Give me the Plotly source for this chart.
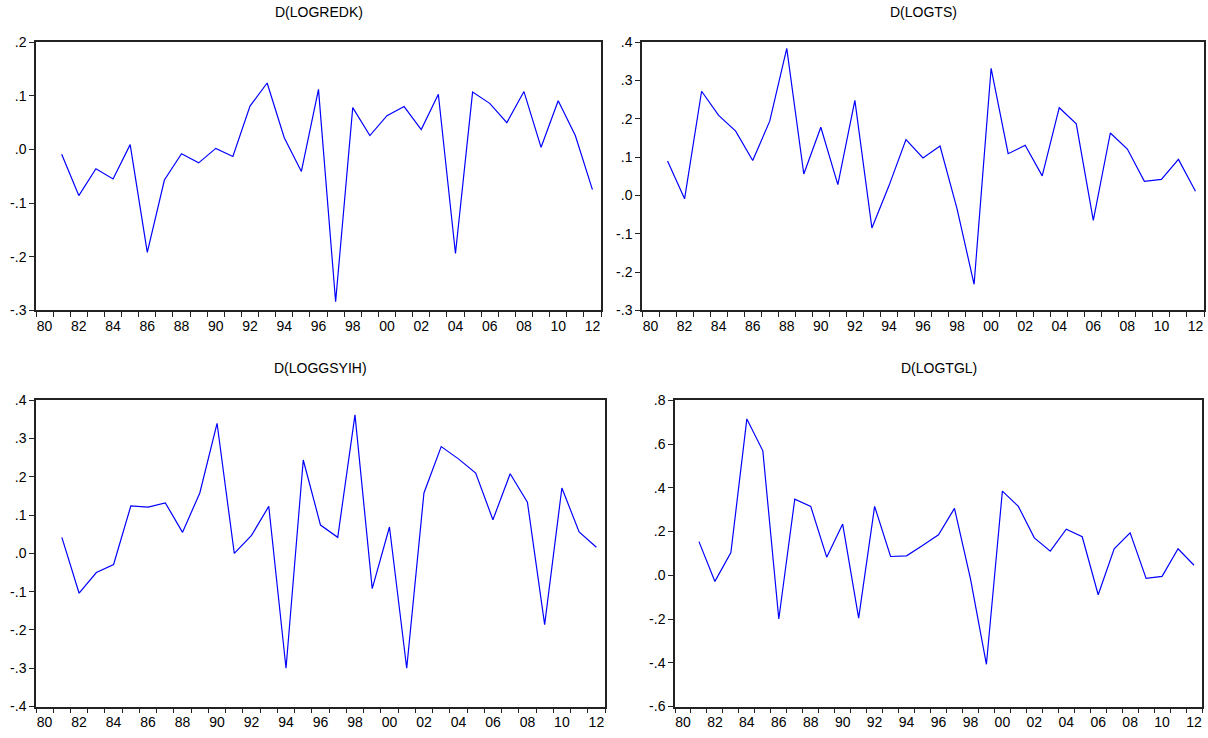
import plotly.graph_objects as go

years = list(range(1981, 2013))

logredk = [-0.009, -0.086, -0.036, -0.055, 0.009, -0.192, -0.057, -0.008, -0.025, 0.002,
           -0.013, 0.081, 0.124, 0.022, -0.041, 0.112, -0.284, 0.078, 0.026, 0.063,
           0.080, 0.037, 0.103, -0.194, 0.107, 0.086, 0.050, 0.108, 0.004, 0.091,
           0.026, -0.075]

logts = [0.090, -0.009, 0.272, 0.209, 0.168, 0.091, 0.194, 0.384, 0.056, 0.178,
         0.028, 0.248, -0.085, 0.025, 0.146, 0.098, 0.129, -0.035, -0.232, 0.332,
         0.109, 0.131, 0.051, 0.229, 0.187, -0.065, 0.163, 0.121, 0.037, 0.042,
         0.094, 0.011]

loggsyih = [0.042, -0.104, -0.050, -0.029, 0.124, 0.121, 0.132, 0.055, 0.158, 0.340,
            0.000, 0.047, 0.123, -0.300, 0.244, 0.074, 0.042, 0.362, -0.092, 0.069,
            -0.300, 0.158, 0.279, 0.247, 0.210, 0.088, 0.208, 0.134, -0.186, 0.171,
            0.056, 0.016]

logtgl = [0.154, -0.028, 0.104, 0.715, 0.569, -0.200, 0.348, 0.315, 0.083, 0.234,
          -0.196, 0.315, 0.086, 0.089, 0.136, 0.185, 0.306, -0.015, -0.407, 0.385,
          0.315, 0.171, 0.110, 0.211, 0.176, -0.089, 0.121, 0.194, -0.014, -0.005,
          0.121, 0.046]

titles = ["D(LOGREDK)", "D(LOGTS)", "D(LOGGSYIH)", "D(LOGTGL)"]

x_label_years = list(range(1980, 2013, 2))
x_labels = ["80", "82", "84", "86", "88", "90", "92", "94", "96", "98",
            "00", "02", "04", "06", "08", "10", "12"]

y1_vals = [0.2, 0.1, 0.0, -0.1, -0.2, -0.3]
y1_text = [".2", ".1", ".0", "-.1", "-.2", "-.3"]
y2_vals = [0.4, 0.3, 0.2, 0.1, 0.0, -0.1, -0.2, -0.3]
y2_text = [".4", ".3", ".2", ".1", ".0", "-.1", "-.2", "-.3"]
y3_vals = [0.4, 0.3, 0.2, 0.1, 0.0, -0.1, -0.2, -0.3, -0.4]
y3_text = [".4", ".3", ".2", ".1", ".0", "-.1", "-.2", "-.3", "-.4"]
y4_vals = [0.8, 0.6, 0.4, 0.2, 0.0, -0.2, -0.4, -0.6]
y4_text = [".8", ".6", ".4", ".2", ".0", "-.2", "-.4", "-.6"]

W, H = 1208, 738
# panel frames in pixels: (left, right, top, bottom)
frames = [(36, 601, 35, 309), (642, 1204, 35, 309),
          (36, 605, 401, 714), (675, 1202, 401, 714)]
title_y = [4, 4, 368, 368]
series = [logredk, logts, loggsyih, logtgl]
yranges = [(-0.3, 0.2), (-0.3, 0.4), (-0.4, 0.4), (-0.6, 0.8)]
yticks = [(y1_vals, y1_text), (y2_vals, y2_text), (y3_vals, y3_text), (y4_vals, y4_text)]

minor_ticks = [y + 0.5 for y in range(1979, 2013)]

fig = go.Figure()
font = dict(family="Liberation Sans, Arial, sans-serif", size=14, color="black")
tfont = dict(family="Liberation Sans, Arial, sans-serif", size=14, color="black")

for i in range(4):
    l, r, t, b = frames[i]
    xa = "xaxis" if i == 0 else f"xaxis{i+1}"
    ya = "yaxis" if i == 0 else f"yaxis{i+1}"
    xref = "x" if i == 0 else f"x{i+1}"
    yref = "y" if i == 0 else f"y{i+1}"
    fig.add_trace(go.Scatter(x=years, y=series[i], mode="lines",
                             line=dict(color="#0000FF", width=1.2),
                             xaxis=xref, yaxis=yref, showlegend=False))
    fig.layout[xa] = dict(
        domain=[l / W, r / W], anchor=yref, range=[1979.5, 2012.5],
        tickmode="array", tickvals=x_label_years, ticktext=x_labels, ticks="",
        ticklabelstandoff=2,
        showgrid=False, zeroline=False, showline=True, mirror=True,
        linecolor="#222222", linewidth=1.5, tickfont=font,
        minor=dict(tickmode="array", tickvals=minor_ticks, ticks="outside",
                   ticklen=5, tickwidth=1, tickcolor="#222222", showgrid=False),
    )
    fig.layout[ya] = dict(
        domain=[1 - b / H, 1 - t / H], anchor=xref, range=list(yranges[i]),
        tickmode="array", tickvals=yticks[i][0], ticktext=yticks[i][1],
        ticks="outside", ticklen=5, tickwidth=1, tickcolor="#222222",
        showgrid=False, zeroline=False, showline=True, mirror=True,
        linecolor="#222222", linewidth=1.5, tickfont=font,
    )
    fig.add_annotation(text=titles[i], xref="paper", yref="paper",
                       x=(l + r) / 2 / W, y=1 - title_y[i] / H,
                       xanchor="center", yanchor="middle", showarrow=False,
                       font=tfont)

fig.update_layout(width=W, height=H, margin=dict(l=0, r=0, t=0, b=0),
                  paper_bgcolor="white", plot_bgcolor="white")

fig.write_html("out.html", config={"displayModeBar": False},
               post_script="document.body.style.margin='0';document.body.style.overflow='hidden';")
